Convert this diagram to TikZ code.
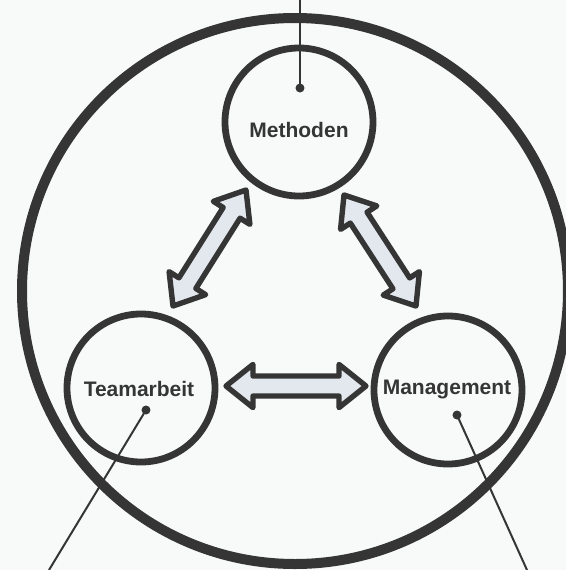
\documentclass[tikz,border=0pt]{standalone}
\usepackage{fontspec}
\setmainfont{Liberation Sans}
\usetikzlibrary{calc}
\definecolor{ink}{HTML}{353535}
\definecolor{bg}{HTML}{F8FAFA}
\definecolor{arrfill}{HTML}{E3E8EE}
\tikzset{
  bigcirc/.style={circle, draw=ink, line width=5pt, minimum size=273pt, inner sep=0pt},
  smallcirc/.style={circle, draw=ink, line width=3.4pt, minimum size=74pt, inner sep=0pt},
  lbl/.style={font=\bfseries\fontsize{10.5pt}{12pt}\selectfont, text=ink, inner sep=0pt},
  dotnode/.style={circle, fill=ink, inner sep=0pt, minimum size=4.5pt},
  pointer/.style={draw=ink, line width=1pt},
  dblarrow/.style={draw=ink, fill=arrfill, line width=2.7pt, line join=round}
}
\newcommand\dblarr[2]{%
  \draw[dblarrow] (#1)
    -- ($(#1)!13.5pt!(#2)!10.8pt!90:(#2)$)
    -- ($(#1)!13.5pt!(#2)!5pt!90:(#2)$)
    -- ($(#2)!13.5pt!(#1)!5pt!-90:(#1)$)
    -- ($(#2)!13.5pt!(#1)!10.8pt!-90:(#1)$)
    -- (#2)
    -- ($(#2)!13.5pt!(#1)!10.8pt!90:(#1)$)
    -- ($(#2)!13.5pt!(#1)!5pt!90:(#1)$)
    -- ($(#1)!13.5pt!(#2)!5pt!-90:(#2)$)
    -- ($(#1)!13.5pt!(#2)!10.8pt!-90:(#2)$)
    -- cycle;}
\begin{document}
\begin{tikzpicture}[x=0.5pt,y=-0.5pt]
  \fill[bg] (0,0) rectangle (566,570);
  \useasboundingbox (0,0) rectangle (566,570);
  % outer circle
  \node[bigcirc] (O) at (295,291) {};
  % three circles
  \node[smallcirc] (M) at (299,122) {};
  \node[lbl] (Mt) at (299,130) {Methoden};
  \node[smallcirc] (T) at (141,388) {};
  \node[lbl] (Tt) at (139,389) {Teamarbeit};
  \node[smallcirc] (G) at (448,390) {};
  \node[lbl] (Gt) at (447,389) {Management};
  % arrow tips
  \coordinate (a1) at (246,190);
  \coordinate (a2) at (173,306);
  \coordinate (b1) at (344,195);
  \coordinate (b2) at (416,306);
  \coordinate (c1) at (226,386);
  \coordinate (c2) at (366,386);
  \dblarr{a1}{a2}
  \dblarr{b1}{b2}
  \dblarr{c1}{c2}
  % pointer dots and lines
  \node[dotnode] (dM) at (300,88) {};
  \node[dotnode] (dT) at (146,410) {};
  \node[dotnode] (dG) at (457,415) {};
  \coordinate (eM) at (300,0);
  \coordinate (eT) at (49,570);
  \coordinate (eG) at (527,570);
  \draw[pointer] (dM.center) -- (eM);
  \draw[pointer] (dT.center) -- (eT);
  \draw[pointer] (dG.center) -- (eG);
\end{tikzpicture}
\end{document}
